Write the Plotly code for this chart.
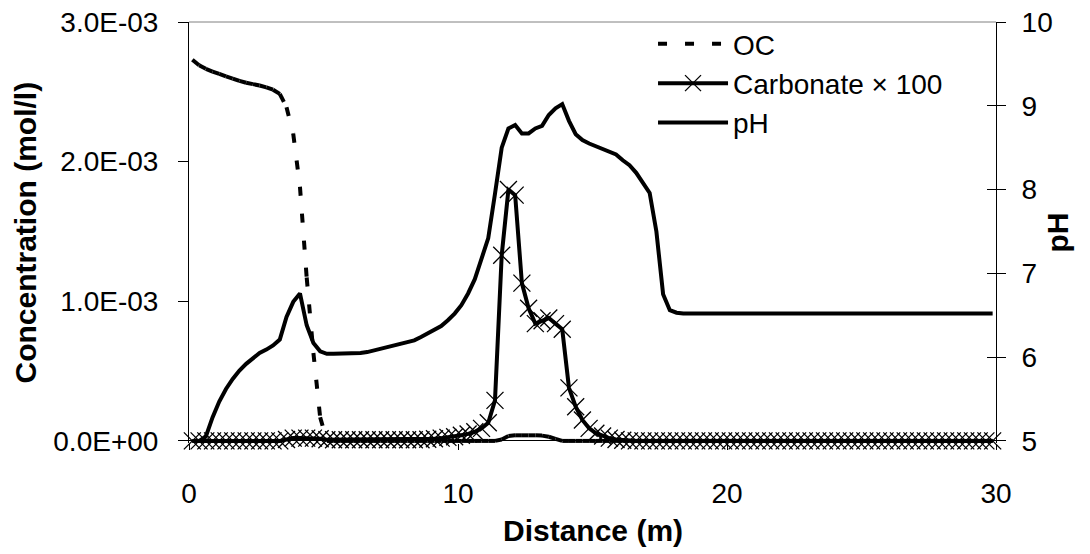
import plotly.graph_objects as go

# ---------------- data ----------------
# distance of each model cell centre (m)
distance_m = [
    0.125, 0.375, 0.625, 0.875, 1.125, 1.375, 1.625, 1.875, 2.125, 2.375,
    2.625, 2.875, 3.125, 3.375, 3.625, 3.875, 4.125, 4.375, 4.625, 4.875,
    5.125, 5.375, 5.625, 5.875, 6.125, 6.375, 6.625, 6.875, 7.125, 7.375,
    7.625, 7.875, 8.125, 8.375, 8.625, 8.875, 9.125, 9.375, 9.625, 9.875,
    10.125, 10.375, 10.625, 10.875, 11.125, 11.375, 11.625, 11.875, 12.125, 12.375,
    12.625, 12.875, 13.125, 13.375, 13.625, 13.875, 14.125, 14.375, 14.625, 14.875,
    15.125, 15.375, 15.625, 15.875, 16.125, 16.375, 16.625, 16.875, 17.125, 17.375,
    17.625, 17.875, 18.125, 18.375, 18.625, 18.875, 19.125, 19.375, 19.625, 19.875,
    20.125, 20.375, 20.625, 20.875, 21.125, 21.375, 21.625, 21.875, 22.125, 22.375,
    22.625, 22.875, 23.125, 23.375, 23.625, 23.875, 24.125, 24.375, 24.625, 24.875,
    25.125, 25.375, 25.625, 25.875, 26.125, 26.375, 26.625, 26.875, 27.125, 27.375,
    27.625, 27.875, 28.125, 28.375, 28.625, 28.875, 29.125, 29.375, 29.625, 29.875,
]

# OC concentration (mmol/l, i.e. x 1e-3 mol/l)
oc_mmol = [
    2.73, 2.69, 2.665, 2.645, 2.628, 2.61, 2.595, 2.578, 2.565, 2.555,
    2.545, 2.532, 2.515, 2.485, 2.39, 2.20, 1.82, 1.17, 0.63, 0.17,
    0.0, 0.0, 0.0, 0.0, 0.0, 0.0, 0.0, 0.0, 0.0, 0.0,
    0.0, 0.0, 0.0, 0.0, 0.0, 0.0, 0.0, 0.0, 0.0, 0.0,
    0.0, 0.0, 0.0, 0.0, 0.0, 0.0, 0.01, 0.035, 0.04, 0.04,
    0.04, 0.04, 0.038, 0.03, 0.015, 0.0, 0.0, 0.0, 0.0, 0.0,
    0.0, 0.0, 0.0, 0.0, 0.0, 0.0, 0.0, 0.0, 0.0, 0.0,
    0.0, 0.0, 0.0, 0.0, 0.0, 0.0, 0.0, 0.0, 0.0, 0.0,
    0.0, 0.0, 0.0, 0.0, 0.0, 0.0, 0.0, 0.0, 0.0, 0.0,
    0.0, 0.0, 0.0, 0.0, 0.0, 0.0, 0.0, 0.0, 0.0, 0.0,
    0.0, 0.0, 0.0, 0.0, 0.0, 0.0, 0.0, 0.0, 0.0, 0.0,
    0.0, 0.0, 0.0, 0.0, 0.0, 0.0, 0.0, 0.0, 0.0, 0.0,
]

# Carbonate x 100 (mmol/l, i.e. x 1e-3 mol/l)
carbonate_x100_mmol = [
    0.0, 0.0, 0.0, 0.0, 0.0, 0.0, 0.0, 0.0, 0.0, 0.0,
    0.0, 0.0, 0.0, 0.0, 0.01, 0.02, 0.02, 0.02, 0.02, 0.015,
    0.008, 0.008, 0.008, 0.008, 0.008, 0.008, 0.008, 0.008, 0.008, 0.008,
    0.008, 0.008, 0.008, 0.008, 0.008, 0.012, 0.015, 0.02, 0.025, 0.03,
    0.04, 0.05, 0.065, 0.09, 0.13, 0.29, 1.33, 1.80, 1.76, 1.13,
    0.95, 0.84, 0.86, 0.88, 0.84, 0.80, 0.38, 0.245, 0.15, 0.09,
    0.055, 0.035, 0.02, 0.01, 0.005, 0.0, 0.0, 0.0, 0.0, 0.0,
    0.0, 0.0, 0.0, 0.0, 0.0, 0.0, 0.0, 0.0, 0.0, 0.0,
    0.0, 0.0, 0.0, 0.0, 0.0, 0.0, 0.0, 0.0, 0.0, 0.0,
    0.0, 0.0, 0.0, 0.0, 0.0, 0.0, 0.0, 0.0, 0.0, 0.0,
    0.0, 0.0, 0.0, 0.0, 0.0, 0.0, 0.0, 0.0, 0.0, 0.0,
    0.0, 0.0, 0.0, 0.0, 0.0, 0.0, 0.0, 0.0, 0.0, 0.0,
]

# pH (right axis)
ph_values = [
    5.00, 5.00, 5.05, 5.28, 5.47, 5.62, 5.74, 5.84, 5.92, 5.99,
    6.05, 6.09, 6.14, 6.21, 6.48, 6.66, 6.76, 6.38, 6.17, 6.07,
    6.04, 6.04, 6.04, 6.04, 6.05, 6.05, 6.06, 6.08, 6.10, 6.12,
    6.14, 6.16, 6.18, 6.20, 6.24, 6.28, 6.32, 6.37, 6.44, 6.52,
    6.62, 6.76, 6.93, 7.17, 7.42, 7.95, 8.50, 8.73, 8.77, 8.67,
    8.67, 8.73, 8.76, 8.89, 8.97, 9.02, 8.82, 8.66, 8.59, 8.55,
    8.52, 8.49, 8.46, 8.42, 8.35, 8.29, 8.20, 8.08, 7.96, 7.50,
    6.75, 6.56, 6.53, 6.52, 6.52, 6.52, 6.52, 6.52, 6.52, 6.52,
    6.52, 6.52, 6.52, 6.52, 6.52, 6.52, 6.52, 6.52, 6.52, 6.52,
    6.52, 6.52, 6.52, 6.52, 6.52, 6.52, 6.52, 6.52, 6.52, 6.52,
    6.52, 6.52, 6.52, 6.52, 6.52, 6.52, 6.52, 6.52, 6.52, 6.52,
    6.52, 6.52, 6.52, 6.52, 6.52, 6.52, 6.52, 6.52, 6.52, 6.52,
]

x_tick_vals = [0, 10, 20, 30]
conc_tick_vals = [0.0, 1.0e-3, 2.0e-3, 3.0e-3]
conc_tick_text = ["0.0E+00", "1.0E-03", "2.0E-03", "3.0E-03"]
ph_tick_vals = [5, 6, 7, 8, 9, 10]

# ---------------- figure ----------------
MMOL = 1e-3
oc = [v * MMOL for v in oc_mmol]
carb = [v * MMOL for v in carbonate_x100_mmol]

# Excel restarts the dash pattern on every segment: split OC into segments
oc_seg_x, oc_seg_y = [], []
for i in range(len(distance_m) - 1):
    oc_seg_x += [distance_m[i], distance_m[i + 1], None]
    oc_seg_y += [oc[i], oc[i + 1], None]

FONT = "Liberation Sans, Arial, sans-serif"
LW = 4

# small padding below zero so thick lines lying on the zero line are not clipped
CONC_RANGE = [-1.5e-5, 3e-3]
PH_RANGE = [5 - 0.025, 10]

fig = go.Figure()
fig.add_trace(go.Scatter(
    x=oc_seg_x, y=oc_seg_y, name="OC", mode="lines",
    line=dict(color="black", width=LW, dash="9px,18px"),
    connectgaps=False, cliponaxis=False, yaxis="y",
))
fig.add_trace(go.Scatter(
    x=distance_m, y=carb, name="Carbonate × 100", mode="lines+markers",
    line=dict(color="black", width=LW),
    marker=dict(symbol="x-thin", size=17, color="black",
                line=dict(color="black", width=1.3)),
    cliponaxis=False, yaxis="y",
))
fig.add_trace(go.Scatter(
    x=distance_m, y=ph_values, name="pH", mode="lines",
    line=dict(color="black", width=LW),
    cliponaxis=False, yaxis="y2",
))

axis_common = dict(showgrid=False, tickcolor="black", tickwidth=1,
                   tickfont=dict(family=FONT, size=28, color="black"))

fig.update_layout(
    width=1090, height=554,
    margin=dict(l=189, r=94, t=22, b=111, autoexpand=False),
    plot_bgcolor="white", paper_bgcolor="white",
    font=dict(family=FONT, size=28, color="black"),
    showlegend=True,
    legend=dict(x=0.575, y=1.007, xanchor="left", yanchor="top",
                bgcolor="rgba(0,0,0,0)", borderwidth=0,
                font=dict(family=FONT, size=28, color="black"),
                itemwidth=70, tracegroupgap=0),
    xaxis=dict(range=[0, 30], tickvals=x_tick_vals, ticks="outside", ticklen=6,
               ticklabelstandoff=19, showline=False, zeroline=False, **axis_common),
    yaxis=dict(range=CONC_RANGE, tickvals=conc_tick_vals, ticktext=conc_tick_text,
               ticks="outside", ticklen=10, ticklabelstandoff=14,
               showline=True, linecolor="black", linewidth=1,
               zeroline=True, zerolinecolor="black", zerolinewidth=1, **axis_common),
    yaxis2=dict(range=PH_RANGE, tickvals=ph_tick_vals, overlaying="y", side="right",
                anchor="x", ticks="outside", ticklen=9, ticklabelstandoff=10,
                showline=True, linecolor="black", linewidth=1, zeroline=False,
                **axis_common),
    yaxis3=dict(range=PH_RANGE, tickvals=ph_tick_vals, overlaying="y", side="right",
                anchor="x", ticks="inside", ticklen=9, showticklabels=False,
                showgrid=False, zeroline=False, showline=False, tickcolor="black"),
    shapes=[dict(type="line", xref="paper", yref="paper", x0=0, x1=1, y0=1, y1=1,
                 line=dict(color="#808080", width=1))],
    annotations=[
        dict(text="<b>Distance (m)</b>", xref="paper", yref="paper", x=0.5, y=-0.2076,
             xanchor="center", yanchor="middle", showarrow=False,
             font=dict(family=FONT, size=30, color="black")),
        dict(text="<b>Concentration (mol/l)</b>", xref="paper", yref="paper",
             x=-0.2020, y=0.5, xanchor="center", yanchor="middle", textangle=-90,
             showarrow=False, font=dict(family=FONT, size=30, color="black")),
        dict(text="<b>pH</b>", xref="paper", yref="paper", x=1.0768, y=0.5,
             xanchor="center", yanchor="middle", textangle=-90, showarrow=False,
             font=dict(family=FONT, size=30, color="black")),
    ],
)

# invisible trace so the cross-tick axis is drawn
fig.add_trace(go.Scatter(x=[None], y=[None], yaxis="y3", showlegend=False,
                         hoverinfo="skip"))

# remove the browser's default 8px body margin so the figure sits at (0, 0)
fig.write_html("out.html",
               config={"displayModeBar": False},
               post_script="document.body.style.margin='0px';"
                           "document.body.style.overflow='hidden';")
